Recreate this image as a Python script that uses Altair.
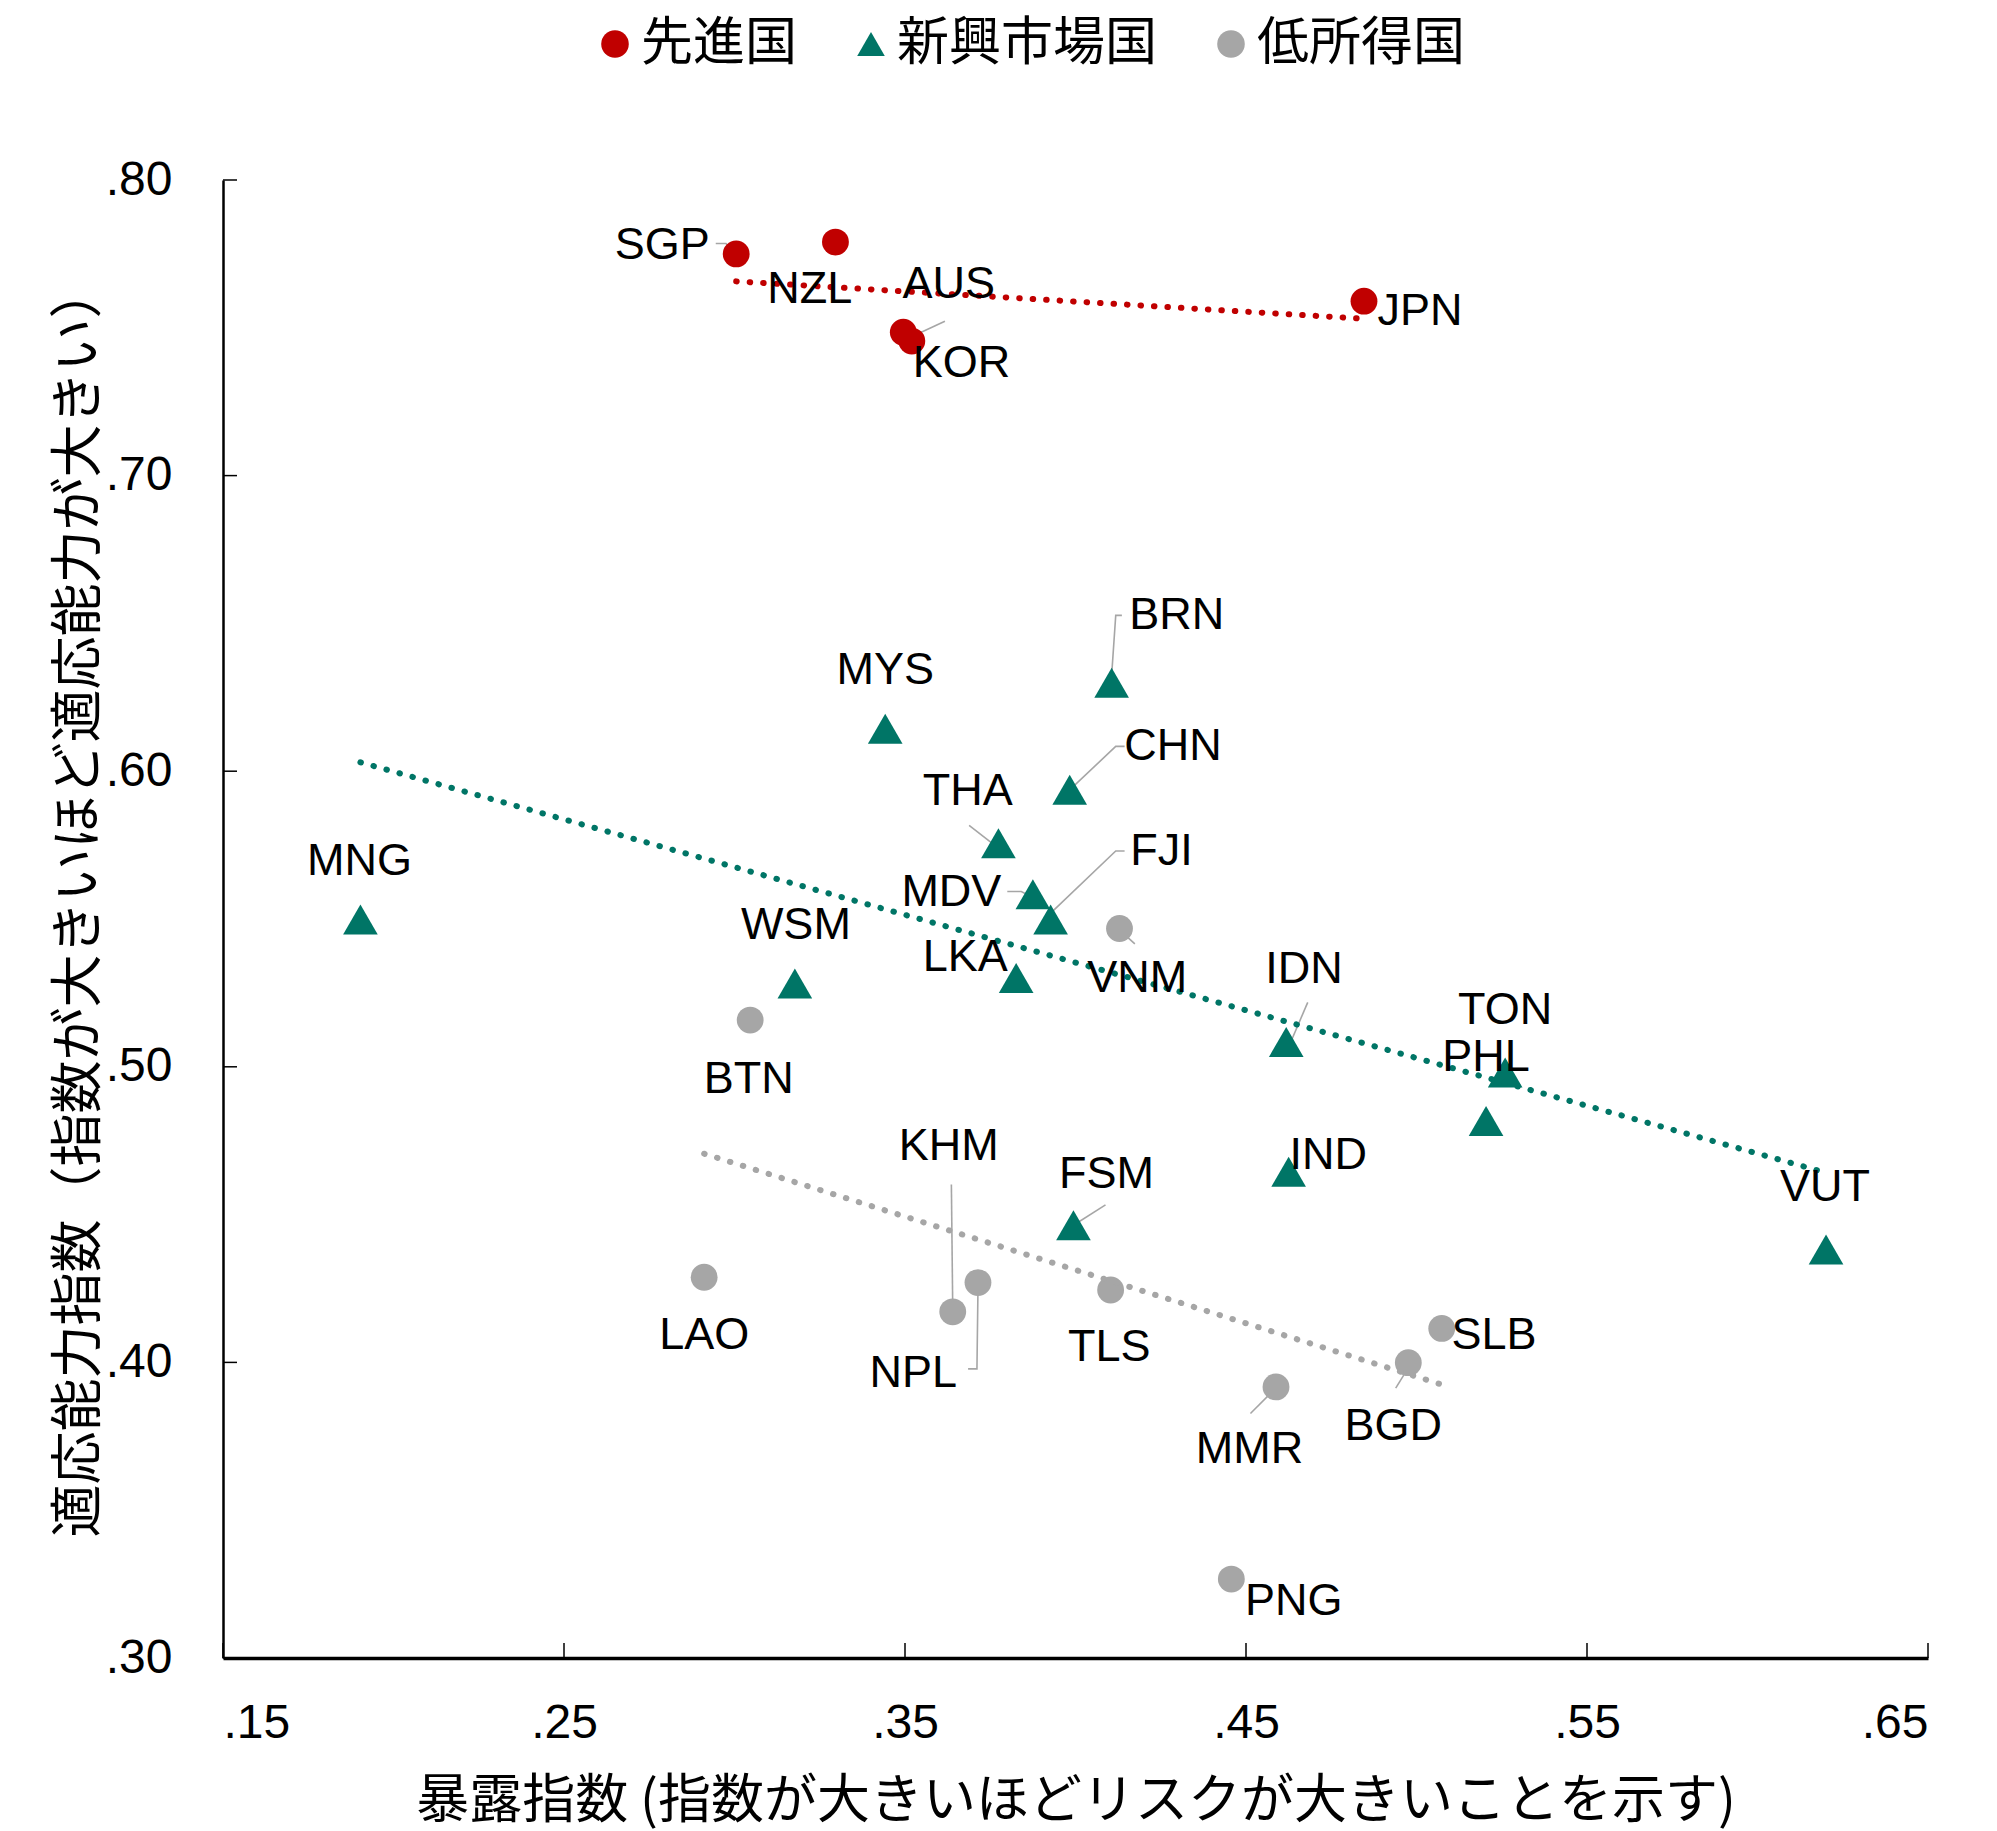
import altair as alt
import pandas as pd

# ---------------- data ----------------
group_order = ["先進国", "新興市場国", "低所得国"]

countries = ["SGP", "NZL", "AUS", "KOR", "JPN",
             "MNG", "WSM", "MYS", "BRN", "CHN", "THA", "MDV", "FJI", "LKA", "IDN",
             "TON", "PHL", "IND", "FSM", "VUT",
             "BTN", "VNM", "LAO", "KHM", "NPL", "TLS", "MMR", "BGD", "SLB", "PNG"]
groups = ["先進国"] * 5 + ["新興市場国"] * 15 + ["低所得国"] * 10
exposure = [0.3005, 0.3296, 0.3495, 0.3520, 0.4846,
            0.1903, 0.3177, 0.3442, 0.4106, 0.3983, 0.3774, 0.3875, 0.3927, 0.3826, 0.4618,
            0.5260, 0.5204, 0.4625, 0.3994, 0.6201,
            0.3046, 0.4129, 0.2911, 0.3640, 0.3714, 0.4103, 0.4588, 0.4976, 0.5074, 0.4457]
adaptive = [0.775, 0.779, 0.7485, 0.7455, 0.759,
            0.5498, 0.5282, 0.6144, 0.6299, 0.5937, 0.5756, 0.5584, 0.5498, 0.5300, 0.5084,
            0.4981, 0.4817, 0.4645, 0.4464, 0.4382,
            0.5158, 0.5468, 0.4288, 0.4171, 0.4270, 0.4245, 0.3917, 0.3999, 0.4115, 0.3267]

# data-label placement (in data units, as in the source chart)
label_x = [0.2788, 0.3221, 0.3628, 0.3666, 0.5010,
           0.1900, 0.3180, 0.3442, 0.4297, 0.4286, 0.3684, 0.3636, 0.4252, 0.3677, 0.4670,
           0.5260, 0.5204, 0.4741, 0.4091, 0.6198,
           0.3042, 0.4181, 0.2911, 0.3628, 0.3524, 0.4099, 0.4510, 0.4932, 0.5227, 0.4640]
label_y = [0.7780, 0.7630, 0.7647, 0.7380, 0.7556,
           0.5696, 0.5481, 0.6342, 0.6527, 0.6084, 0.5933, 0.5593, 0.5730, 0.5373, 0.5330,
           0.5192, 0.5033, 0.4701, 0.4636, 0.4593,
           0.4960, 0.5300, 0.4094, 0.4731, 0.3965, 0.4051, 0.3706, 0.3784, 0.4094, 0.3194]

# leader lines (polyline vertices in data units)
leader_country = ["SGP", "SGP", "SGP", "AUS", "AUS", "BRN", "BRN", "BRN",
                  "CHN", "CHN", "CHN", "THA", "THA", "MDV", "MDV", "MDV",
                  "FJI", "FJI", "FJI", "VNM", "VNM", "IDN", "IDN", "FSM", "FSM",
                  "KHM", "KHM", "NPL", "NPL", "NPL", "MMR", "MMR", "BGD", "BGD"]
leader_x = [0.2945, 0.2975, 0.3001, 0.3505, 0.3617, 0.4136, 0.4118, 0.4106,
            0.4144, 0.4118, 0.3976, 0.3688, 0.3770, 0.3800, 0.3841, 0.3871,
            0.4144, 0.4118, 0.3931, 0.4133, 0.4174, 0.4681, 0.4625, 0.4088, 0.3994,
            0.3636, 0.3640, 0.3685, 0.3711, 0.3714, 0.4513, 0.4569, 0.4939, 0.4969]
leader_y = [0.7785, 0.7785, 0.7750, 0.7462, 0.7522, 0.6527, 0.6527, 0.6325,
            0.6084, 0.6084, 0.5929, 0.5817, 0.5743, 0.5593, 0.5593, 0.5575,
            0.5730, 0.5730, 0.5524, 0.5459, 0.5416, 0.5218, 0.5067, 0.4533, 0.4464,
            0.4602, 0.4180, 0.3978, 0.3978, 0.4249, 0.3827, 0.3892, 0.3913, 0.3969]

x_ticks = [0.15, 0.25, 0.35, 0.45, 0.55, 0.65]
y_ticks = [0.30, 0.40, 0.50, 0.60, 0.70, 0.80]

x_title = "暴露指数 (指数が大きいほどリスクが大きいことを示す)"
y_title = "適応能力指数（指数が大きいほど適応能力が大きい）"

# ---------------- tables ----------------
df = pd.DataFrame({"country": countries, "group": groups,
                   "exposure": exposure, "adaptive": adaptive,
                   "lx": label_x, "ly": label_y})
lead = pd.DataFrame({"country": leader_country, "x": leader_x, "y": leader_y,
                     "seq": list(range(len(leader_x)))})
xt = pd.DataFrame({"t": x_ticks})
yt = pd.DataFrame({"t": y_ticks})

# ---------------- styles ----------------
W, H = 1705, 1478
LATIN = "Liberation Sans, Arial, sans-serif"
CJK = "Noto Sans CJK JP"
colors = ["#C00000", "#007566", "#A6A6A6"]
shapes = ["circle", "triangle-up", "circle"]

x_scale = alt.Scale(domain=[0.15, 0.65], nice=False, zero=False)
y_scale = alt.Scale(domain=[0.30, 0.80], nice=False, zero=False)
color_scale = alt.Scale(domain=group_order, range=colors)
shape_scale = alt.Scale(domain=group_order, range=shapes)

x_axis = alt.Axis(values=x_ticks, labelExpr="substring(format(datum.value, '.2f'), 1)",
                  title=x_title, ticks=False, tickSize=0, grid=False,
                  domainColor="black", domainWidth=3.5,
                  labelFont=LATIN, labelFontSize=48, labelColor="black", labelPadding=41,
                  labelBaseline="top",
                  titleFont=CJK, titleFontSize=53, titleFontWeight="normal", titleColor="black",
                  titleY=143, titleBaseline="middle")
y_axis = alt.Axis(values=y_ticks, labelExpr="substring(format(datum.value, '.2f'), 1)",
                  title=y_title, ticks=False, tickSize=0, grid=False,
                  domainColor="black", domainWidth=2.5,
                  labelFont=LATIN, labelFontSize=48, labelColor="black", labelPadding=51,
                  titleFont=CJK, titleFontSize=53, titleFontWeight="normal", titleColor="black",
                  titleX=-144, titleY=H / 2 - 18, titleBaseline="middle")

legend = alt.Legend(title=None, orient="none", legendX=366, legendY=-162,
                    direction="horizontal", labelFont=CJK, labelFontSize=52,
                    labelColor="black", labelLimit=1000, symbolSize=760, symbolStrokeWidth=0,
                    symbolOpacity=1, columnPadding=47, labelOffset=0)


def X(field):
    return alt.X(field, scale=x_scale, axis=x_axis)


def Y(field):
    return alt.Y(field, scale=y_scale, axis=y_axis)


# ---------------- layers ----------------
leaders = alt.Chart(lead).mark_line(color="#A6A6A6", strokeWidth=1.6).encode(
    x=X("x:Q"), y=Y("y:Q"),
    detail="country:N", order=alt.Order("seq:Q"))

points = alt.Chart(df).mark_point(filled=True, opacity=1, strokeWidth=0).encode(
    x=X("exposure:Q"), y=Y("adaptive:Q"),
    color=alt.Color("group:N", scale=color_scale, legend=legend, sort=group_order),
    shape=alt.Shape("group:N", scale=shape_scale, legend=legend, sort=group_order),
    size=alt.condition(alt.datum.group == "新興市場国", alt.value(1200), alt.value(720)))

trend = alt.Chart(df).transform_regression(
    "exposure", "adaptive", groupby=["group"]).mark_line(
    strokeDash=[0.5, 13], strokeWidth=6, strokeCap="round").encode(
    x=X("exposure:Q"), y=Y("adaptive:Q"),
    color=alt.Color("group:N", scale=color_scale, legend=None))

labels = alt.Chart(df).mark_text(font=LATIN, fontSize=45, color="black",
                                 align="center", baseline="middle").encode(
    x=X("lx:Q"), y=Y("ly:Q"), text="country:N")

xticks_layer = alt.Chart(xt).mark_rule(color="black", strokeWidth=1.5).encode(
    x=X("t:Q"), y=alt.value(H - 15), y2=alt.value(H))
yticks_layer = alt.Chart(yt).mark_rule(color="black", strokeWidth=1.5).encode(
    y=Y("t:Q"), x=alt.value(0), x2=alt.value(14))

chart = alt.layer(leaders, points, trend, labels, xticks_layer, yticks_layer).properties(
    width=W, height=H,
    autosize=alt.AutoSizeParams(type="none"),
    padding={"left": 215, "top": 172, "right": 40, "bottom": 174},
).configure_view(stroke=None)

chart.save("out.html", embed_options={"renderer": "svg", "actions": False})
